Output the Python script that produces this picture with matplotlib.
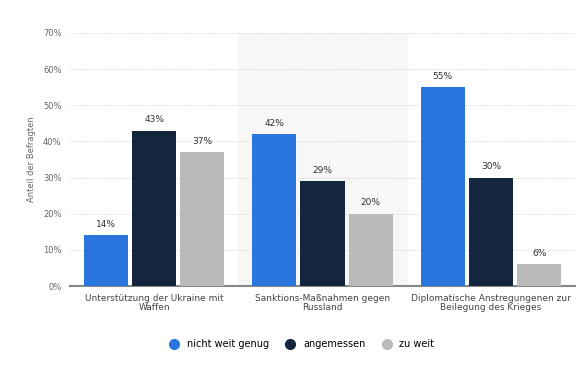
import numpy as np
import matplotlib.pyplot as plt

categories = ['Unterstützung der Ukraine mit\nWaffen',
              'Sanktions-Maßnahmen gegen\nRussland',
              'Diplomatische Anstregungenen zur\nBeilegung des Krieges']
series_names = ['nicht weit genug', 'angemessen', 'zu weit']
nicht_weit_genug = [14, 42, 55]
angemessen = [43, 29, 30]
zu_weit = [37, 20, 6]
colors = ['#2876dd', '#13263d', '#bababa']

plt.rcParams['font.family'] = ['DejaVu Sans']

fig = plt.figure(figsize=(5.87, 3.74), dpi=100)
ax = fig.add_axes([0.119, 0.235, 0.861, 0.677])

x = np.arange(len(categories))
w = 0.262
gap = 0.024
values = [nicht_weit_genug, angemessen, zu_weit]
for i, (name, vals, c) in enumerate(zip(series_names, values, colors)):
    pos = x + (i - 1) * (w + gap)
    ax.bar(pos, vals, width=w, color=c, label=name, zorder=3)
    for p, v in zip(pos, vals):
        ax.text(p, v + 1.8, f'{v}%', ha='center', va='bottom', fontsize=6.5, color='#333333')

ax.axvspan(0.5, 1.5, color='#f7f7f7', zorder=0)
ax.set_xlim(-0.5, 2.5)
ax.set_ylim(0, 70)
ax.set_yticks(range(0, 71, 10))
ax.set_yticklabels([f'{t}%' for t in range(0, 71, 10)], fontsize=6, color='#666666')
ax.set_xticks(x)
ax.set_xticklabels(categories, fontsize=6.5, color='#444444', linespacing=0.9)
ax.tick_params(axis='both', length=0, pad=6)
ax.yaxis.grid(True, linestyle=(0, (1, 1.5)), color='#cccccc', linewidth=0.6, zorder=1)
for s in ['top', 'right', 'left']:
    ax.spines[s].set_visible(False)
ax.spines['bottom'].set_color('#888888')
ax.spines['bottom'].set_linewidth(1.5)
ax.set_ylabel('Anteil der Befragten', fontsize=6, color='#666666', labelpad=5)

handles = [plt.Line2D([], [], marker='o', linestyle='', markersize=7, color=c) for c in colors]
fig.legend(handles, series_names, loc='center', bbox_to_anchor=(0.51, 0.08), ncol=3,
           frameon=False, fontsize=7, handletextpad=0.3, columnspacing=1.2)

fig.savefig('out.png', dpi=100)
